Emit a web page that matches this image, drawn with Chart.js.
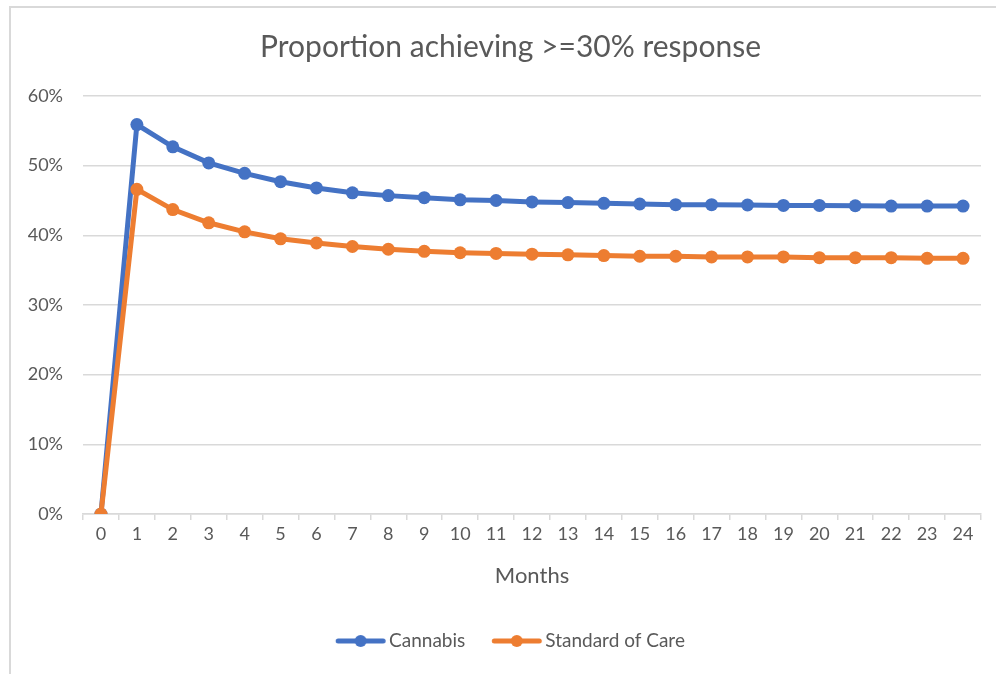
<!DOCTYPE html>
<html lang="en">
  <head>
    <script src="https://cdn.jsdelivr.net/npm/chart.js"></script>
    <style>
      body { margin: 0; background: #fff; overflow: hidden; }
      .frame { position: absolute; left: 9px; top: 6px; width: 1100px; height: 800px; border: 2px solid #d9d9d9; }
      .wrap { position: absolute; left: 0; top: 0; width: 996px; height: 674px; }
    </style>
  </head>
  <body>
    <div class="frame"></div>
    <div class="wrap"><canvas id="chart"></canvas></div>
    <script type="text/javascript">
      const months = ['0', '1', '2', '3', '4', '5', '6', '7', '8', '9', '10', '11', '12',
        '13', '14', '15', '16', '17', '18', '19', '20', '21', '22', '23', '24'];
      const cannabis = [0, 55.9, 52.7, 50.4, 48.9, 47.7, 46.8, 46.1, 45.7, 45.4, 45.1, 45.0, 44.8,
        44.7, 44.6, 44.5, 44.4, 44.4, 44.35, 44.3, 44.3, 44.25, 44.2, 44.2, 44.2];
      const standardOfCare = [0, 46.6, 43.7, 41.8, 40.5, 39.5, 38.9, 38.4, 38.0, 37.7, 37.5, 37.4, 37.3,
        37.2, 37.1, 37.0, 37.0, 36.9, 36.9, 36.9, 36.8, 36.8, 36.8, 36.7, 36.7];

      const blue = '#4472C4';
      const orange = '#ED7D31';
      const textColor = '#595959';
      const gridColor = '#D9D9D9';
      const fontFamily = 'Lato, "Open Sans", sans-serif';

      // legend marker: a short line with a dot on it, like Excel
      // (image is wider than the legend box so the line starts at the item's left edge)
      function legendMarker(color) {
        const c = document.createElement('canvas');
        c.width = 60;
        c.height = 14;
        const ctx = c.getContext('2d');
        const s = 8.25;
        ctx.strokeStyle = color;
        ctx.lineWidth = 5;
        ctx.lineCap = 'round';
        ctx.beginPath();
        ctx.moveTo(s + 2, 7);
        ctx.lineTo(s + 47, 7);
        ctx.stroke();
        ctx.fillStyle = color;
        ctx.beginPath();
        ctx.arc(s + 24.5, 7, 6, 0, Math.PI * 2);
        ctx.fill();
        return c;
      }

      new Chart(document.getElementById('chart'), {
        type: 'line',
        data: {
          labels: months,
          datasets: [
            {
              label: 'Cannabis',
              data: cannabis,
              borderColor: blue,
              backgroundColor: blue,
              borderWidth: 5,
              pointRadius: 6.5,
              pointBorderWidth: 0,
              order: 2,
            },
            {
              label: 'Standard of Care',
              data: standardOfCare,
              borderColor: orange,
              backgroundColor: orange,
              borderWidth: 5,
              pointRadius: 6.5,
              pointBorderWidth: 0,
              order: 1,
            },
          ],
        },
        options: {
          responsive: true,
          maintainAspectRatio: false,
          animation: false,
          layout: { padding: { left: 40, right: 15, top: 0, bottom: 13.5 } },
          plugins: {
            tooltip: { enabled: false },
            title: {
              display: true,
              text: 'Proportion achieving >=30% response',
              color: textColor,
              font: { family: fontFamily, size: 30, weight: 'normal' },
              padding: { top: 29, bottom: 31 },
            },
            legend: {
              position: 'bottom',
              labels: {
                color: textColor,
                font: { family: fontFamily, size: 19 },
                usePointStyle: true,
                pointStyleWidth: 43.5,
                padding: 27,
                generateLabels: (chart) =>
                  chart.data.datasets.map((ds, i) => ({
                    text: ds.label,
                    pointStyle: legendMarker(ds.borderColor),
                    fontColor: textColor,
                    datasetIndex: i,
                    lineWidth: 0,
                  })),
              },
            },
          },
          scales: {
            x: {
              offset: true,
              grid: {
                offset: true,
                drawOnChartArea: false,
                drawTicks: true,
                tickLength: 6,
                color: gridColor,
                lineWidth: 1.5,
              },
              border: { color: gridColor, width: 1.5 },
              ticks: { color: textColor, font: { family: fontFamily, size: 18 }, padding: 3, maxRotation: 0 },
              title: {
                display: true,
                text: 'Months',
                color: textColor,
                font: { family: fontFamily, size: 22 },
                padding: { top: 0, bottom: 15 },
              },
              afterFit: (scale) => { scale.height = 90.5; },
            },
            y: {
              min: 0,
              max: 60,
              grid: { color: gridColor, lineWidth: 1.5, drawTicks: false },
              border: { display: false },
              ticks: {
                stepSize: 10,
                color: textColor,
                font: { family: fontFamily, size: 18 },
                padding: 20,
                callback: (v) => v + '%',
              },
              afterFit: (scale) => {
                scale.width = 43;
                // labels stick out into the layout padding, so don't clip them to the scale box
                scale._computeLabelArea = () => undefined;
              },
            },
          },
        },
      });
    </script>
  </body>
</html>
